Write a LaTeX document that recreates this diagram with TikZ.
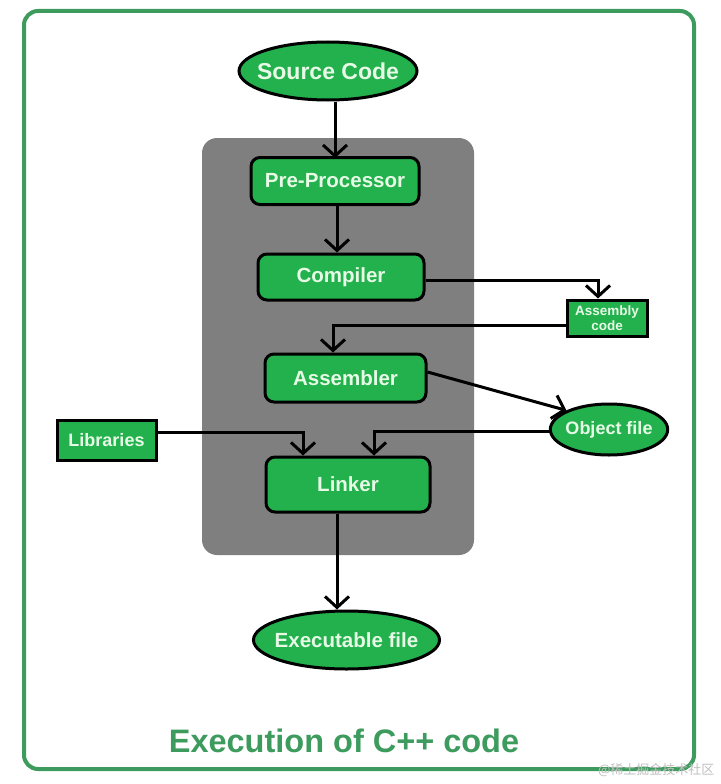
\documentclass[tikz,border=0pt]{standalone}
\usepackage{fontspec}
\setmainfont{Liberation Sans}
\newfontfamily\cjk{Noto Sans CJK SC}
\usetikzlibrary{arrows.meta,shapes.geometric}
\definecolor{gfgframe}{HTML}{3D9B5E}
\definecolor{nodegreen}{HTML}{22B14C}
\definecolor{nodetext}{HTML}{E6FAE6}
\definecolor{panelgray}{HTML}{7F7F7F}
\tikzset{
  base/.style={draw=black, line width=3pt, fill=nodegreen, text=nodetext, font=\bfseries, inner sep=0pt},
  roundbox/.style={base, rounded corners=9pt, minimum height=47pt},
  sqbox/.style={base, rectangle},
  oval/.style={base, ellipse},
  conn/.style={draw=black, line width=3pt, -{Straight Barb[length=11pt,width=24pt,line width=3pt]}},
}
\begin{document}
\begin{tikzpicture}[x=1pt,y=-1pt]
\useasboundingbox (0,0) rectangle (720,784);
\fill[white] (0,0) rectangle (720,784);
\draw[gfgframe, line width=4pt, rounded corners=14pt] (24,11) rectangle (694,769);
\fill[panelgray, rounded corners=15pt] (202,138) rectangle (474,555);

\node[oval, inner xsep=-8pt, minimum height=58pt, font=\bfseries\fontsize{23}{26}\selectfont] (src) at (328,71) {Source Code};
\node[roundbox, minimum width=168pt, font=\bfseries\fontsize{20.5}{24}\selectfont] (pre) at (335,181) {Pre-Processor};
\node[roundbox, minimum width=166pt, minimum height=46pt, font=\bfseries\fontsize{20.5}{24}\selectfont] (comp) at (341,277) {Compiler};
\node[sqbox, minimum width=80pt, minimum height=36pt, align=center, font=\bfseries\fontsize{13.5}{15}\selectfont] (asmc) at (607,318) {Assembly\\code};
\node[roundbox, minimum width=161pt, minimum height=48pt, font=\bfseries\fontsize{20.5}{24}\selectfont] (asm) at (345.5,378) {Assembler};
\node[oval, inner xsep=-2pt, minimum height=51pt, font=\bfseries\fontsize{18}{21}\selectfont] (obj) at (609,429.5) {Object file};
\node[sqbox, minimum width=99pt, minimum height=40pt, font=\bfseries\fontsize{18}{21}\selectfont] (lib) at (106.5,440) {Libraries};
\node[roundbox, minimum width=164pt, minimum height=55pt, font=\bfseries\fontsize{20.5}{24}\selectfont] (link) at (348,484.5) {Linker};
\node[oval, inner xsep=-6pt, minimum height=58pt, font=\bfseries\fontsize{20.5}{24}\selectfont] (exe) at (346.5,640) {Executable file};

\node[text=gfgframe, font=\bfseries\fontsize{32.5}{36}\selectfont] (title) at (344,741) {Execution of C++ code};
\node[text=black!25, font=\cjk\fontsize{13}{15}\selectfont, anchor=east] (wm) at (718,770) {@稀土掘金技术社区};

\draw[conn] (src.south -| 335,0) -- (335,158);
\draw[conn] (pre.south -| 337,0) -- (comp.north -| 337,0);
\draw[conn] (comp.east |- 0,280) -| (asmc.north -| 598,0);
\draw[conn] (asmc.west |- 0,325) -| (asm.north -| 333,0);
\draw[conn] (asm.east |- 0,372) -- (obj.north west);
\draw[conn] (lib.east |- 0,432) -| (link.north -| 303,0);
\draw[conn] (obj.west |- 0,431) -| (link.north -| 374,0);
\draw[conn] (link.south -| 337,0) -- (exe.north -| 337,0);
\end{tikzpicture}
\end{document}
